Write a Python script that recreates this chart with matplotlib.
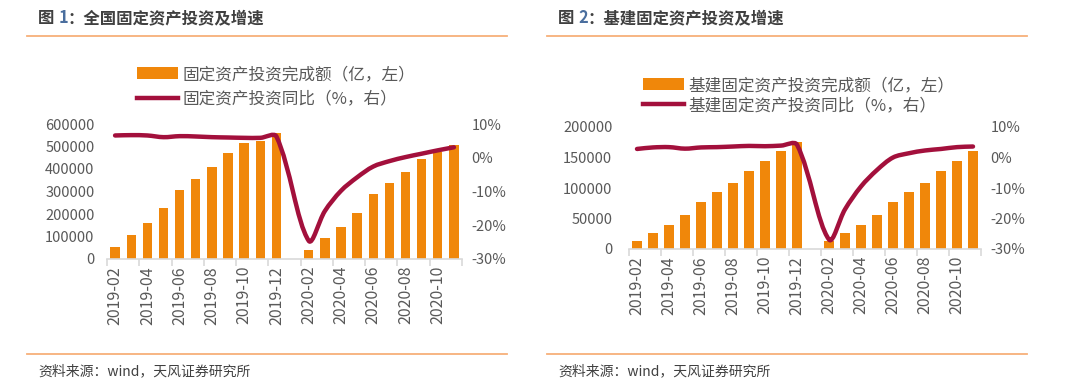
import numpy as np
import matplotlib
matplotlib.use("Agg")
import matplotlib.pyplot as plt
from matplotlib.path import Path
from matplotlib.patches import PathPatch, Patch
from matplotlib.lines import Line2D
from matplotlib.ticker import FuncFormatter

plt.rcParams['font.family'] = ['Noto Sans CJK SC', 'DejaVu Sans']

# ---------------- data ----------------
months = ["2019-02", "2019-03", "2019-04", "2019-05", "2019-06", "2019-07",
          "2019-08", "2019-09", "2019-10", "2019-11", "2019-12", "2020-01",
          "2020-02", "2020-03", "2020-04", "2020-05", "2020-06", "2020-07",
          "2020-08", "2020-09", "2020-10", "2020-11"]
tick_labels = months[::2]

# Chart 1: national fixed-asset investment (100m CNY, left) and YoY (% right)
fai_total = [51700, 107800, 162000, 224500, 307000, 356000, 407700, 470000,
             516000, 524000, 560000, np.nan, 40000, 92000, 143600, 204000,
             288000, 337000, 387000, 444000, 475000, 507000]
fai_yoy = [6.6, 6.7, 6.6, 6.1, 6.4, 6.3, 6.1, 6.0, 5.9, 5.9, 6.3, np.nan,
           -24.6, -15.8, -9.8, -5.8, -2.6, -1.0, 0.2, 1.2, 2.2, 3.1]

# Chart 2: infrastructure fixed-asset investment
infra_total = [12700, 26400, 39700, 55600, 77100, 93100, 108500, 127300,
               143800, 160300, 175200, np.nan, 12700, 26400, 39700, 55600,
               77100, 93100, 108500, 127300, 143800, 160300]
infra_yoy = [2.8, 3.3, 3.4, 2.9, 3.3, 3.4, 3.6, 3.8, 3.7, 3.9, 4.2, np.nan,
             -26.9, -17.0, -9.5, -4.1, 0.0, 1.4, 2.3, 2.8, 3.4, 3.6]

titles = ["图 ", "1", "：全国固定资产投资及增速"]
titles2 = ["图 ", "2", "：基建固定资产投资及增速"]
legend1 = ["固定资产投资完成额（亿，左）", "固定资产投资同比（%，右）"]
legend2 = ["基建固定资产投资完成额（亿，左）", "基建固定资产投资同比（%，右）"]
source = "资料来源：wind，天风证券研究所"

ORANGE = "#F0870A"
RED = "#A3103C"
GRAY = "#595959"
AXIS = "#D9D9D9"
DECO = "#F7B07A"

W, H = 1080, 386
fig = plt.figure(figsize=(W / 100, H / 100), dpi=100)
bg = fig.add_axes([0, 0, 1, 1])
bg.set_xlim(0, W)
bg.set_ylim(H, 0)
bg.axis("off")


def smooth_path(xs, ys, sx, sy):
    """Smoothed line through the data points (Excel-like, distance weighted)."""
    pts = np.column_stack([xs, ys])
    scale = np.array([sx, sy])
    n = len(pts)

    def dist(a, b):
        return float(np.hypot(*((b - a) * scale)))

    verts = [pts[0]]
    codes = [Path.MOVETO]
    for i in range(n - 1):
        p0 = pts[i - 1] if i > 0 else pts[i]
        p1 = pts[i]
        p2 = pts[i + 1]
        p3 = pts[i + 2] if i + 2 < n else pts[i + 1]
        d01, d12, d23 = dist(p0, p1), dist(p1, p2), dist(p2, p3)
        w1 = d12 / (d01 + d12) if (d01 + d12) > 0 else 0.5
        w2 = d12 / (d12 + d23) if (d12 + d23) > 0 else 0.5
        c1 = p1 + (p2 - p0) * w1 / 3.0
        c2 = p2 - (p3 - p1) * w2 / 3.0
        verts += [c1, c2, p2]
        codes += [Path.CURVE4] * 3
    return Path(verts, codes)


def pct(v, p):
    return f"{v:.0f}%"


def draw_chart(rect, bars, growth, ymax, ystep, labels, leg_anchor, lpad, lspace):
    ax = fig.add_axes(rect)
    x = np.arange(len(months))
    ax.bar(x, bars, width=0.58, color=ORANGE, zorder=2)
    ax.set_xlim(-0.5, len(months) - 0.5)
    ax.set_ylim(0, ymax)
    ax.set_yticks(np.arange(0, ymax + 1, ystep))
    ax.yaxis.set_major_formatter(FuncFormatter(lambda v, p: f"{v:.0f}"))
    ax.set_xticks(x[::2])
    ax.set_xticklabels(tick_labels, rotation=90)
    ax.set_xticks(np.arange(-0.5, len(months), 2), minor=True)
    for s in ["top", "left", "right"]:
        ax.spines[s].set_visible(False)
    ax.spines["bottom"].set_color(AXIS)
    ax.spines["bottom"].set_linewidth(1.2)
    ax.tick_params(axis="y", length=0, pad=lpad, labelsize=10.5, labelcolor=GRAY)
    ax.tick_params(axis="x", which="major", length=0, pad=5, labelsize=11.5,
                   labelcolor=GRAY)
    ax.tick_params(axis="x", which="minor", length=5, width=1.2, color=AXIS)

    ax2 = ax.twinx()
    ax2.set_ylim(-30, 10)
    ax2.set_yticks([-30, -20, -10, 0, 10])
    ax2.yaxis.set_major_formatter(FuncFormatter(pct))
    for s in ax2.spines.values():
        s.set_visible(False)
    ax2.tick_params(axis="y", length=0, pad=7, labelsize=10.5, labelcolor=GRAY)
    g = np.array(growth, dtype=float)
    m = ~np.isnan(g)
    sx = rect[2] * W / len(months)
    sy = rect[3] * H / 40.0
    path = smooth_path(x[m].astype(float), g[m], sx, sy)
    ax2.add_patch(PathPatch(path, fill=False, edgecolor=RED, lw=3.2,
                            capstyle="round", joinstyle="round", zorder=3))

    handles = [Patch(facecolor=ORANGE, edgecolor="none"),
               Line2D([], [], color=RED, lw=3.2)]
    leg = ax.legend(handles, labels, loc="upper left",
                    bbox_to_anchor=leg_anchor, bbox_transform=fig.transFigure,
                    frameon=False, fontsize=12, handlelength=2.45,
                    handleheight=0.7, handletextpad=0.3, labelspacing=lspace,
                    borderpad=0, borderaxespad=0)
    for t in leg.get_texts():
        t.set_color(GRAY)
    return ax, ax2


# chart 1
draw_chart([107 / W, 1 - 259 / H, 355 / W, 135 / H], fai_total, fai_yoy,
           600000, 100000, legend1, (137 / W, 1 - 66 / H), 9, 0.45)
# chart 2
draw_chart([629 / W, 1 - 249 / H, 352 / W, 122 / H], infra_total, infra_yoy,
           200000, 50000, legend2, (643 / W, 1 - 77 / H), 12, 0.2)


def title(x0, parts):
    t1 = bg.text(x0, 18, parts[0], fontsize=11.8, fontweight="bold",
                 color="#404040", va="center", ha="left")
    t2 = bg.annotate(parts[1], xy=(1, 0), xycoords=t1, va="bottom", ha="left",
                     fontsize=11.8, fontweight="bold", color="#4A6E9E")
    bg.annotate(parts[2], xy=(1, 0), xycoords=t2, va="bottom", ha="left",
                fontsize=11.8, fontweight="bold", color="#404040")


title(38, titles)
title(558, titles2)

for x0, x1 in [(27, 507), (547, 1027)]:
    bg.plot([x0, x1], [36, 36], color=DECO, lw=1.3)
    bg.plot([x0, x1], [354, 354], color=DECO, lw=1.3)

bg.text(38, 371, source, fontsize=10, color="#404040", va="center", ha="left")
bg.text(558, 371, source, fontsize=10, color="#404040", va="center", ha="left")

fig.savefig("out.png", dpi=100)
